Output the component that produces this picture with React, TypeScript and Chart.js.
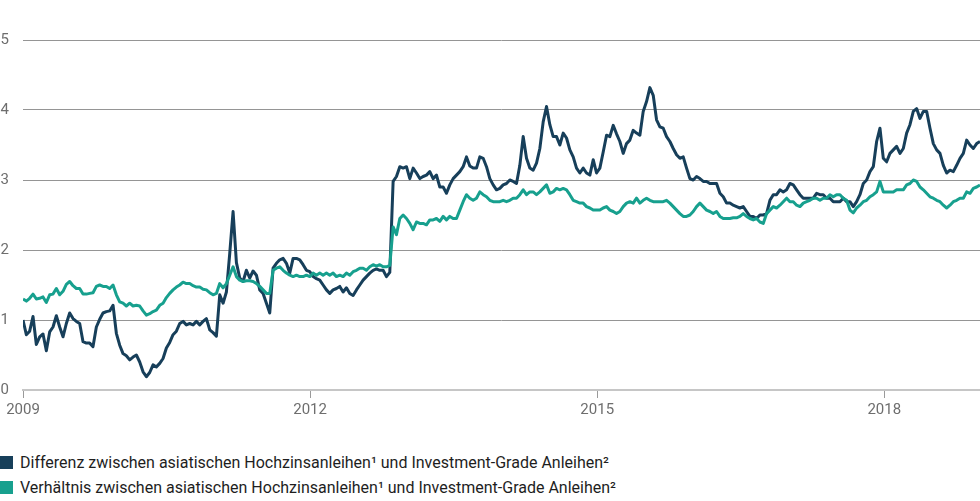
import React, { useEffect, useRef } from "react";
import { Chart, registerables } from "chart.js";

Chart.register(...registerables);

// Sample grid: ~1.8-week steps from 2009 to 2019
const START_YEAR = 2009;
const END_YEAR = 2019;
const SAMPLES_PER_YEAR = 28.7;

const xTickYears = [2009, 2012, 2015, 2018];
const yTickValues = [0, 1, 2, 3, 4, 5];

const seriesLabels = [
  "Differenz zwischen asiatischen Hochzinsanleihen¹ und Investment-Grade Anleihen²",
  "Verhältnis zwischen asiatischen Hochzinsanleihen¹ und Investment-Grade Anleihen²",
];
const seriesColors = ["#173f5a", "#17a08e"];

const differenz = [
  1.00, 0.79, 0.84, 1.05, 0.65, 0.76, 0.80, 0.56, 0.83, 0.90, 1.06, 0.90, 0.76, 0.95, 1.10, 1.02, 0.98, 0.95, 0.69, 0.67, 0.67, 0.62, 0.90, 1.01, 1.10, 1.12, 1.13, 1.21, 0.81, 0.64, 0.52, 0.49, 0.43, 0.47, 0.50, 0.40,
  0.26, 0.19, 0.25, 0.36, 0.33, 0.38, 0.45, 0.60, 0.68, 0.79, 0.84, 0.95, 0.98, 0.93, 0.95, 0.93, 0.98, 0.93, 0.98, 1.02, 0.86, 0.82, 0.77, 1.36, 1.24, 1.40, 1.95, 2.55, 1.82, 1.60, 1.55, 1.71, 1.60, 1.70, 1.64, 1.43,
  1.38, 1.24, 1.10, 1.74, 1.81, 1.86, 1.88, 1.81, 1.67, 1.88, 1.88, 1.86, 1.79, 1.71, 1.69, 1.62, 1.59, 1.57, 1.50, 1.43, 1.38, 1.43, 1.45, 1.48, 1.40, 1.46, 1.38, 1.35, 1.43, 1.50, 1.57, 1.62, 1.67, 1.71, 1.73, 1.71,
  1.71, 1.62, 1.68, 2.98, 3.05, 3.19, 3.17, 3.19, 3.02, 3.17, 3.10, 3.02, 3.05, 3.07, 3.12, 3.02, 3.07, 2.90, 2.90, 2.81, 2.93, 3.02, 3.07, 3.12, 3.19, 3.33, 3.20, 3.17, 3.17, 3.33, 3.31, 3.19, 3.02, 2.93, 2.86, 2.88,
  2.93, 2.95, 3.00, 2.98, 2.95, 3.21, 3.62, 3.31, 3.17, 3.14, 3.24, 3.45, 3.83, 4.05, 3.79, 3.62, 3.62, 3.50, 3.67, 3.60, 3.43, 3.33, 3.17, 3.10, 3.17, 3.10, 3.07, 3.29, 3.10, 3.17, 3.40, 3.64, 3.62, 3.78, 3.66, 3.55,
  3.38, 3.52, 3.57, 3.71, 3.67, 3.64, 3.98, 4.12, 4.32, 4.21, 3.86, 3.76, 3.74, 3.62, 3.55, 3.45, 3.36, 3.31, 3.33, 3.17, 3.02, 3.00, 3.05, 3.02, 2.98, 2.98, 2.95, 2.95, 2.95, 2.81, 2.76, 2.67, 2.67, 2.64, 2.62, 2.60,
  2.62, 2.55, 2.48, 2.48, 2.45, 2.50, 2.50, 2.52, 2.71, 2.79, 2.79, 2.86, 2.83, 2.86, 2.95, 2.93, 2.86, 2.79, 2.74, 2.74, 2.74, 2.74, 2.81, 2.79, 2.79, 2.74, 2.74, 2.69, 2.69, 2.69, 2.74, 2.69, 2.69, 2.62, 2.69,
  2.79, 2.95, 3.00, 3.12, 3.19, 3.55, 3.74, 3.31, 3.26, 3.38, 3.43, 3.48, 3.38, 3.45, 3.67, 3.79, 3.98, 4.02, 3.88, 3.98, 3.98, 3.74, 3.52, 3.43, 3.38, 3.21, 3.10, 3.14, 3.12, 3.21, 3.31, 3.38, 3.57, 3.50, 3.45, 3.52, 3.55,
];

const verhaeltnis = [
  1.30, 1.27, 1.31, 1.37, 1.30, 1.31, 1.33, 1.25, 1.36, 1.37, 1.45, 1.36, 1.41, 1.51, 1.55, 1.49, 1.45, 1.45, 1.37, 1.37, 1.38, 1.39, 1.48, 1.50, 1.48, 1.48, 1.45, 1.50, 1.36, 1.26, 1.24, 1.20, 1.24, 1.20, 1.21, 1.20,
  1.13, 1.07, 1.09, 1.12, 1.14, 1.21, 1.24, 1.32, 1.38, 1.43, 1.47, 1.50, 1.54, 1.52, 1.52, 1.49, 1.47, 1.47, 1.44, 1.43, 1.39, 1.36, 1.38, 1.52, 1.46, 1.52, 1.64, 1.76, 1.62, 1.57, 1.55, 1.56, 1.56, 1.55, 1.52, 1.48,
  1.43, 1.38, 1.38, 1.71, 1.74, 1.76, 1.71, 1.67, 1.64, 1.62, 1.64, 1.62, 1.62, 1.64, 1.62, 1.67, 1.64, 1.67, 1.64, 1.67, 1.64, 1.67, 1.62, 1.64, 1.62, 1.67, 1.64, 1.69, 1.71, 1.74, 1.74, 1.71, 1.76, 1.79, 1.77, 1.79,
  1.76, 1.76, 1.78, 2.33, 2.22, 2.45, 2.50, 2.45, 2.38, 2.29, 2.40, 2.38, 2.38, 2.36, 2.43, 2.43, 2.45, 2.41, 2.48, 2.43, 2.48, 2.45, 2.45, 2.57, 2.69, 2.79, 2.74, 2.71, 2.74, 2.83, 2.79, 2.76, 2.71, 2.69, 2.69, 2.69,
  2.71, 2.69, 2.71, 2.74, 2.74, 2.79, 2.86, 2.79, 2.83, 2.83, 2.79, 2.83, 2.88, 2.93, 2.81, 2.83, 2.88, 2.86, 2.88, 2.86, 2.79, 2.71, 2.69, 2.67, 2.67, 2.62, 2.60, 2.57, 2.57, 2.57, 2.60, 2.62, 2.57, 2.55, 2.52, 2.55,
  2.62, 2.67, 2.69, 2.67, 2.74, 2.67, 2.71, 2.74, 2.71, 2.69, 2.69, 2.69, 2.69, 2.71, 2.67, 2.62, 2.57, 2.52, 2.48, 2.48, 2.50, 2.55, 2.62, 2.67, 2.62, 2.57, 2.55, 2.52, 2.55, 2.48, 2.45, 2.45, 2.45, 2.46, 2.46, 2.48,
  2.52, 2.48, 2.45, 2.43, 2.45, 2.40, 2.38, 2.52, 2.57, 2.62, 2.60, 2.64, 2.69, 2.74, 2.69, 2.69, 2.64, 2.62, 2.67, 2.69, 2.71, 2.74, 2.74, 2.71, 2.74, 2.74, 2.79, 2.76, 2.79, 2.79, 2.74, 2.71, 2.57, 2.53, 2.60,
  2.64, 2.69, 2.71, 2.76, 2.79, 2.83, 2.98, 2.83, 2.83, 2.83, 2.83, 2.86, 2.86, 2.86, 2.93, 2.95, 3.00, 2.98, 2.90, 2.86, 2.81, 2.76, 2.74, 2.71, 2.69, 2.64, 2.60, 2.64, 2.69, 2.71, 2.74, 2.74, 2.83, 2.81, 2.88, 2.90, 2.93,
];

const sampleYears = differenz.map((_, i) => START_YEAR + i / SAMPLES_PER_YEAR);

const FONT = "Roboto, 'Noto Sans', sans-serif";

export default function App() {
  const canvasRef = useRef<HTMLCanvasElement | null>(null);

  useEffect(() => {
    const canvas = canvasRef.current;
    if (!canvas) return;
    const toPoints = (vals: number[]) => vals.map((y, i) => ({ x: sampleYears[i], y }));
    const chart = new Chart(canvas, {
      type: "line",
      data: {
        datasets: [
          {
            label: seriesLabels[0],
            data: toPoints(differenz),
            borderColor: seriesColors[0],
            backgroundColor: seriesColors[0],
            borderWidth: 3,
            pointRadius: 0,
            tension: 0,
            borderJoinStyle: "round",
            order: 1,
          },
          {
            label: seriesLabels[1],
            data: toPoints(verhaeltnis),
            borderColor: seriesColors[1],
            backgroundColor: seriesColors[1],
            borderWidth: 3,
            pointRadius: 0,
            tension: 0,
            borderJoinStyle: "round",
            order: 0,
          },
        ],
      },
      options: {
        animation: false,
        responsive: false,
        maintainAspectRatio: false,
        layout: { padding: { top: 40, left: 0, right: 0, bottom: 0 } },
        plugins: { legend: { display: false }, tooltip: { enabled: false } },
        scales: {
          x: {
            type: "linear",
            min: START_YEAR,
            max: END_YEAR,
            afterBuildTicks: (s: any) => {
              s.ticks = xTickYears.map((v) => ({ value: v }));
            },
            afterFit: (s: any) => {
              s.height = 40;
            },
            grid: { drawOnChartArea: false, drawTicks: true, tickLength: 8, color: "#9a9a9a", lineWidth: 1 },
            border: { display: true, color: "#c6c6c6", width: 2 },
            ticks: {
              color: "#6e6e6e",
              font: { family: FONT, size: 15 },
              padding: 3,
              maxRotation: 0,
              autoSkip: false,
              callback: (v: any) => String(v),
            },
          },
          y: {
            min: 0,
            max: 5,
            afterBuildTicks: (s: any) => {
              s.ticks = yTickValues.map((v) => ({ value: v }));
            },
            afterFit: (s: any) => {
              s.width = 23;
            },
            grid: {
              color: (ctx: any) => (ctx.tick && ctx.tick.value === 0 ? "rgba(0,0,0,0)" : "#959595"),
              lineWidth: 1,
              drawTicks: false,
            },
            border: { display: false },
            ticks: {
              color: "#6e6e6e",
              font: { family: FONT, size: 15 },
              padding: 14,
              callback: (v: any) => String(v),
            },
          },
        },
      },
    });
    return () => chart.destroy();
  }, []);

  return (
    <div style={{ position: "absolute", left: 0, top: 0, width: 980, height: 501, background: "#fff", overflow: "hidden" }}>
      <canvas ref={canvasRef} width={980} height={430} style={{ display: "block", width: 980, height: 430 }} />
      <div style={{ position: "absolute", left: 0, top: 450, fontFamily: FONT, fontSize: 16, color: "#1e1e1e" }}>
        {seriesLabels.map((label, i) => (
          <div key={label} style={{ display: "flex", alignItems: "center", height: 25, whiteSpace: "nowrap" }}>
            <span style={{ display: "inline-block", width: 13, height: 13, background: seriesColors[i], marginRight: 7, flex: "none" }} />
            <span>{label}</span>
          </div>
        ))}
      </div>
    </div>
  );
}
